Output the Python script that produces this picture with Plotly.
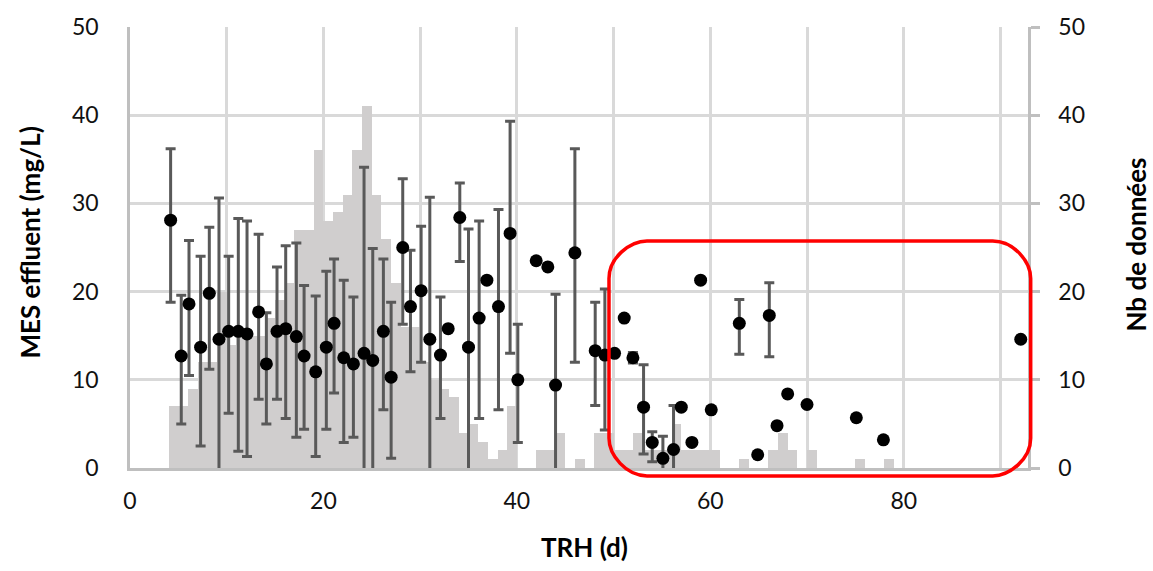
import plotly.graph_objects as go

# ---------------- data ----------------
# Mean effluent suspended solids (MES) per hydraulic retention time (TRH)
trh = [4.2, 5.3, 6.1, 7.3, 8.2, 9.2, 10.2, 11.2, 12.1, 13.3, 14.1, 15.2, 16.1, 17.2, 18.0,
       19.2, 20.3, 21.1, 22.1, 23.1, 24.2, 25.1, 26.2, 27.0, 28.2, 29.0, 30.1, 31.0, 32.1,
       32.9, 34.1, 35.0, 36.1, 36.9, 38.1, 39.3, 40.1, 42.0, 43.2, 44.0, 46.0, 48.1, 49.1,
       50.1, 51.1, 52.0, 53.1, 54.0, 55.1, 56.2, 57.0, 58.1, 59.0, 60.1, 63.0, 64.9, 66.1,
       66.9, 68.0, 70.0, 75.1, 77.9, 92.1]
mes = [28.1, 12.7, 18.6, 13.7, 19.8, 14.6, 15.5, 15.5, 15.2, 17.7, 11.8, 15.5, 15.8, 14.9, 12.7,
       10.9, 13.7, 16.4, 12.5, 11.8, 13.0, 12.2, 15.5, 10.3, 25.0, 18.3, 20.1, 14.6, 12.8,
       15.8, 28.4, 13.7, 17.0, 21.3, 18.3, 26.6, 10.0, 23.5, 22.8, 9.4, 24.4, 13.3, 12.8,
       13.0, 17.0, 12.5, 6.9, 2.9, 1.1, 2.1, 6.9, 2.9, 21.3, 6.6, 16.4, 1.5, 17.3,
       4.8, 8.4, 7.2, 5.7, 3.2, 14.6]
# upper / lower ends of the error bars (None = no error bar)
mes_high = [36.2, 19.6, 25.8, 24.0, 27.3, 30.6, 24.0, 28.3, 28.0, 26.5, 17.6, 22.8, 25.2, 25.5, 20.7,
            19.5, 22.3, 23.7, 21.3, 19.4, 34.1, 24.9, 23.7, 18.8, 32.8, 24.7, 27.4, 30.7, 19.4,
            None, 32.3, 27.1, 28.0, None, 29.3, 39.3, 16.3, None, None, 19.7, 36.2, 18.8, 20.3,
            None, None, 13.1, 11.7, 4.1, 3.6, 7.1, None, None, None, None, 19.1, None, 21.0,
            None, None, None, None, None, None]
mes_low = [18.8, 5.0, 10.5, 2.5, 11.2, -1.5, 6.2, 1.9, 1.3, 7.8, 5.0, 7.8, 5.6, 3.5, 4.4,
           1.3, 4.4, 8.5, 2.9, 3.5, -8.0, -0.5, 6.6, 1.1, 16.3, 10.9, 12.0, -1.5, 5.6,
           None, 23.4, -0.5, 5.6, None, 6.6, 13.0, 2.9, None, None, -0.9, 12.0, 7.1, 4.3,
           None, None, 11.9, 1.6, 0.7, -1.4, -2.9, None, None, None, None, 12.9, None, 12.6,
           None, None, None, None, None, None]

# Histogram: number of data per 1-day TRH class (lower bound of class)
bin_start = list(range(4, 79))
nb_donnees = [7, 7, 9, 12, 12, 20, 14, 15, 15, 15, 17, 19, 21, 27, 27, 36, 28, 29, 31, 36,
              41, 31, 26, 21, 16, 16, 12, 10, 9, 8, 4, 5, 3, 1, 2, 7, 0, 0, 2, 2,
              4, 0, 1, 0, 4, 4, 2, 2, 4, 2, 2, 2, 5, 2, 2, 2, 2, 0, 0, 1,
              0, 0, 2, 4, 2, 0, 2, 0, 0, 0, 0, 1, 0, 0, 1]

x_tickvals = [0, 10, 20, 30, 40, 50, 60, 70, 80, 90]
x_ticktext = ["0", "", "20", "", "40", "", "60", "", "80", ""]
y_tickvals = [0, 10, 20, 30, 40, 50]

# ---------------- figure ----------------
err_plus = [(h - m) if h is not None else 0 for h, m in zip(mes_high, mes)]
err_minus = [(m - l) if l is not None else 0 for l, m in zip(mes_low, mes)]

FONT = "Lato, 'Open Sans', sans-serif"
GRID = "#d9d9d9"
AXIS = "#bfbfbf"
TICKFONT = dict(family=FONT, size=23, color="#111111")

fig = go.Figure()

fig.add_trace(go.Bar(
    x=bin_start, y=nb_donnees, offset=0, width=1,
    marker=dict(color="#d0cece", line=dict(width=0)),
    yaxis="y", name="Nb de données", showlegend=False,
))

fig.add_trace(go.Scatter(
    x=trh, y=mes, mode="markers", yaxis="y2",
    marker=dict(color="black", size=13),
    error_y=dict(type="data", symmetric=False, array=err_plus, arrayminus=err_minus,
                 color="#595959", thickness=3, width=5),
    name="MES", showlegend=False, cliponaxis=True,
))

# red rounded rectangle (paper coordinates)
L, R, T, B = 0.5334, 1.0030, 0.5150, -0.0179
rx, ry = 38 / 898, 38 / 446
k = 0.4477
path = (f"M {L+rx},{T} L {R-rx},{T} "
        f"C {R-rx*k},{T} {R},{T-ry*(1-k)} {R},{T-ry} "
        f"L {R},{B+ry} "
        f"C {R},{B+ry*k} {R-rx*(1-k)},{B} {R-rx},{B} "
        f"L {L+rx},{B} "
        f"C {L+rx*k},{B} {L},{B+ry*(1-k)} {L},{B+ry} "
        f"L {L},{T-ry} "
        f"C {L},{T-ry*k} {L+rx*(1-k)},{T} {L+rx},{T} Z")

TITLEFONT = dict(size=26, color="black", family=FONT)

fig.update_layout(
    width=1153, height=571,
    margin=dict(l=130, r=125, t=22, b=103),
    paper_bgcolor="white", plot_bgcolor="white",
    font=dict(family=FONT, size=23, color="#111111"),
    bargap=0,
    xaxis=dict(range=[0, 92.85], tickvals=x_tickvals, ticktext=x_ticktext,
               showgrid=True, gridcolor=GRID, gridwidth=2.5,
               showline=True, linecolor=AXIS, linewidth=2.5, tickfont=TICKFONT,
               zeroline=False, ticks="", ticklabelstandoff=11),
    yaxis=dict(range=[0, 50], tickvals=y_tickvals, side="right",
               showgrid=True, gridcolor=GRID, gridwidth=2.5,
               showline=True, linecolor=AXIS, linewidth=2.5, tickfont=TICKFONT,
               ticks="outside", ticklen=9, tickcolor=AXIS, tickwidth=2.5,
               zeroline=False, ticklabelstandoff=14),
    yaxis2=dict(range=[0, 50], tickvals=y_tickvals, side="left", overlaying="y",
                showgrid=False, showline=True, linecolor=AXIS, linewidth=2.5,
                tickfont=TICKFONT, ticks="", zeroline=False, ticklabelstandoff=24),
    shapes=[dict(type="path", path=path, xref="paper", yref="paper",
                 line=dict(color="#ff0000", width=3.5), fillcolor="rgba(0,0,0,0)")],
    annotations=[
        dict(text="<b>MES effluent (mg/L)</b>", xref="paper", yref="paper",
             x=(30 - 130) / 898, y=(468 - 240) / 446, xanchor="center", yanchor="middle",
             textangle=-90, showarrow=False, font=TITLEFONT),
        dict(text="<b>Nb de données</b>", xref="paper", yref="paper",
             x=(1136 - 130) / 898, y=(468 - 242) / 446, xanchor="center", yanchor="middle",
             textangle=-90, showarrow=False, font=TITLEFONT),
        dict(text="<b>TRH (d)</b>", xref="paper", yref="paper",
             x=(584 - 130) / 898, y=(468 - 548) / 446, xanchor="center", yanchor="middle",
             showarrow=False, font=TITLEFONT),
    ],
)

fig.write_html("out.html")
